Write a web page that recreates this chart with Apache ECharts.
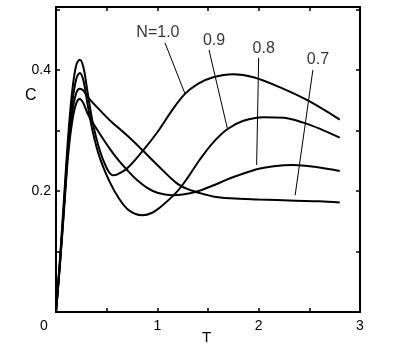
<!DOCTYPE html>
<html><head><meta charset="utf-8">
<script src="https://cdn.jsdelivr.net/npm/echarts@6/dist/echarts.min.js"></script>
<style>html,body{margin:0;padding:0;background:#fff}#c{width:399px;height:344px}</style>
</head><body><div id="c"></div>
<script>
// Curves C(T) for each N
const curveN10 = [[0,0],[0.04,0.09],[0.08,0.19],[0.12,0.29],[0.16,0.365],[0.2,0.408],[0.235,0.417],[0.27,0.405],[0.31,0.365],[0.36,0.315],[0.43,0.268],[0.5,0.238],[0.56,0.226],[0.6,0.227],[0.7,0.237],[0.85,0.265],[1.0,0.297],[1.14,0.332],[1.27,0.36],[1.4,0.377],[1.55,0.388],[1.75,0.393],[1.95,0.388],[2.2,0.372],[2.48,0.35],[2.8,0.318]];
const curveN09 = [[0,0],[0.04,0.085],[0.08,0.18],[0.12,0.275],[0.16,0.345],[0.2,0.385],[0.235,0.395],[0.27,0.383],[0.31,0.345],[0.36,0.3],[0.43,0.256],[0.53,0.215],[0.62,0.188],[0.72,0.168],[0.85,0.16],[0.95,0.164],[1.05,0.176],[1.19,0.198],[1.3,0.222],[1.42,0.252],[1.55,0.28],[1.69,0.302],[1.85,0.316],[2.05,0.322],[2.25,0.321],[2.44,0.313],[2.6,0.303],[2.8,0.288]];
const curveN08 = [[0,0],[0.04,0.08],[0.08,0.17],[0.12,0.26],[0.16,0.315],[0.2,0.345],[0.235,0.352],[0.27,0.345],[0.32,0.325],[0.43,0.295],[0.53,0.27],[0.62,0.25],[0.7,0.235],[0.8,0.218],[0.9,0.205],[1.0,0.197],[1.14,0.193],[1.25,0.194],[1.39,0.199],[1.55,0.209],[1.72,0.221],[1.98,0.236],[2.15,0.241],[2.34,0.243],[2.55,0.24],[2.8,0.233]];
const curveN07 = [[0,0],[0.04,0.082],[0.08,0.175],[0.12,0.27],[0.16,0.33],[0.2,0.362],[0.235,0.369],[0.27,0.366],[0.31,0.356],[0.43,0.334],[0.53,0.317],[0.7,0.292],[0.85,0.268],[1.0,0.243],[1.19,0.213],[1.3,0.203],[1.39,0.198],[1.55,0.191],[1.72,0.188],[2.0,0.186],[2.36,0.184],[2.6,0.183],[2.8,0.181]];
// Curve labels and leader lines
const labelTexts = ['N=1.0','0.9','0.8','0.7'];
const labelPos = [[1.006,0.461],[1.56,0.448],[2.05,0.435],[2.585,0.417]];
const leaders = [
  [[1.075,0.445],[1.27,0.362]],
  [[1.51,0.433],[1.69,0.304]],
  [[2.0,0.42],[1.98,0.243]],
  [[2.535,0.40],[2.36,0.193]]
];
const xTicks = [0,1,2,3];
const yTicks = [0.2,0.4];

const FONT = "'Liberation Sans', Arial, Helvetica, sans-serif";
const chart = echarts.init(document.getElementById('c'), null, {renderer:'canvas'});
const axLine = {show:true, onZero:false, lineStyle:{color:'#000', width:2}};
const tick = {show:true, inside:true, length:4, lineStyle:{color:'#000', width:1.5}};
const curveStyle = {color:'#000', width:2};
const series = [];
[curveN10, curveN09, curveN08, curveN07].forEach((d,i)=>{
  series.push({type:'line', data:d, showSymbol:false, smooth:0.35, lineStyle:curveStyle, silent:true, z:3, xAxisIndex:0, yAxisIndex:0});
});
leaders.forEach(d=>{
  series.push({type:'line', data:d, showSymbol:false, lineStyle:{color:'#000', width:1}, silent:true, z:2, xAxisIndex:0, yAxisIndex:0});
});
series.push({
  type:'scatter', symbolSize:0, silent:true, xAxisIndex:0, yAxisIndex:0,
  data: labelPos.map((p,i)=>({value:p, name:labelTexts[i]})),
  label:{show:true, position:'inside', formatter:p=>p.name, color:'#000', fontSize:16, fontFamily:FONT}
});
chart.setOption({
  animation:false,
  backgroundColor:'#fff',
  grid:{left:56, right:39, top:7, bottom:32, containLabel:false},
  xAxis:[
    {type:'value', min:0, max:3, interval:0.5, position:'bottom',
     axisLine:axLine, axisTick:tick, splitLine:{show:false},
     axisLabel:{show:true, margin:7, color:'#000', fontSize:14, fontFamily:FONT,
       formatter:v=> xTicks.includes(v) ? (v===0 ? '{o|0}' : String(v)) : '',
       rich:{o:{padding:[0,24,0,0], fontSize:14, fontFamily:FONT, color:'#000'}}}},
    {type:'value', min:0, max:3, interval:0.5, position:'top',
     axisLine:axLine, axisTick:tick, splitLine:{show:false}, axisLabel:{show:false}}
  ],
  yAxis:[
    {type:'value', min:0, max:0.504, interval:0.1, position:'left',
     axisLine:axLine, axisTick:tick, splitLine:{show:false},
     axisLabel:{show:true, margin:5, color:'#000', fontSize:14, fontFamily:FONT,
       formatter:v=> yTicks.some(t=>Math.abs(t-v)<1e-9) ? v.toFixed(1) : ''}},
    {type:'value', min:0, max:0.504, interval:0.1, position:'right',
     axisLine:axLine, axisTick:tick, splitLine:{show:false}, axisLabel:{show:false}}
  ],
  graphic:[
    {type:'text', left:25, top:88, style:{text:'C', fontSize:16, fontFamily:FONT, fill:'#000'}},
    {type:'text', left:202, top:330, style:{text:'T', fontSize:15, fontFamily:FONT, fill:'#000'}}
  ],
  series
});
</script></body></html>
